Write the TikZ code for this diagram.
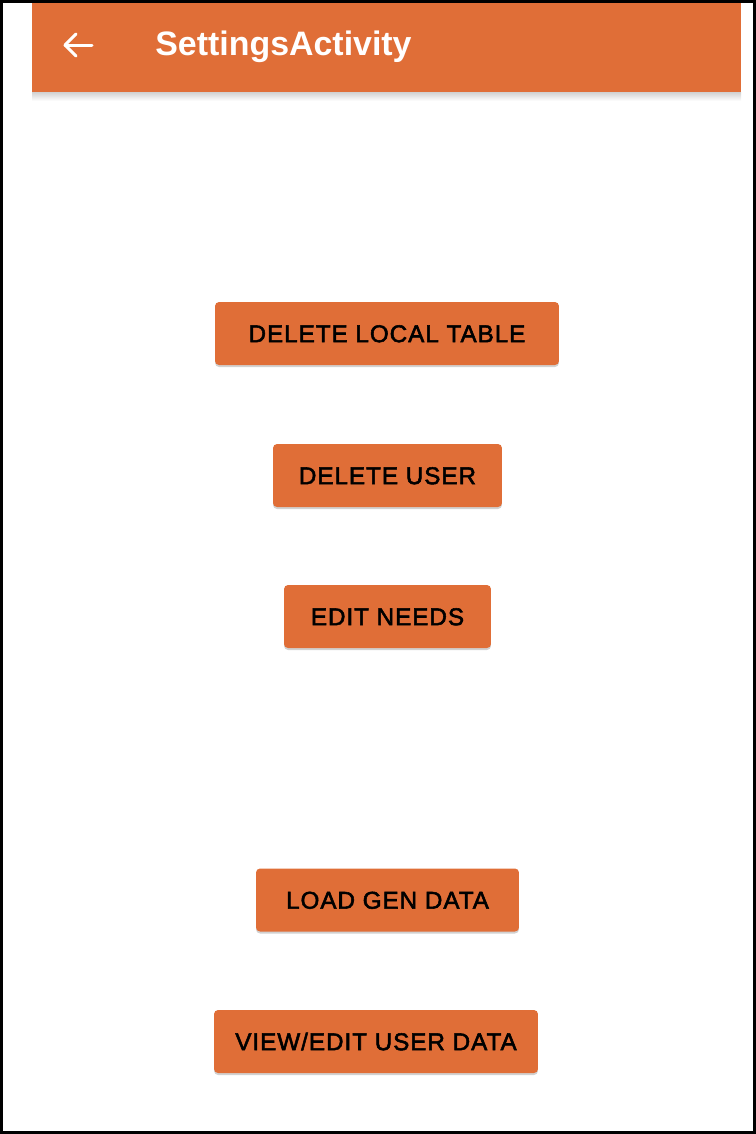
\documentclass[tikz,border=0pt]{standalone}
\usepackage{fontspec}
\setmainfont{Liberation Sans}
\newfontfamily\btnfont[FakeBold=2.2,LetterSpace=4]{Liberation Sans}
\usetikzlibrary{shapes,positioning,shadows}
\definecolor{appOrange}{RGB}{224,110,55}

\begin{document}
\begin{tikzpicture}[
    x=0.02cm, y=-0.02cm,
    appbar/.style={fill=appOrange, draw=none},
    title/.style={text=white, font=\fontsize{19.3}{23}\selectfont\bfseries, anchor=base west, inner sep=0pt},
    button/.style={rectangle, fill=appOrange, rounded corners=0.08cm, minimum height=1.26cm, text height=0.346cm, text depth=0pt, inner sep=0pt, font=\btnfont\fontsize{13.8}{16}\selectfont, drop shadow={shadow xshift=0pt, shadow yshift=-0.04cm, opacity=0.18, fill=black}},
    backarrow/.style={white, line width=0.06cm, line cap=round, line join=round}
]
    \useasboundingbox (0,0) rectangle (756,1134);

    % Barre d'application
    \shade[top color=black!18, bottom color=white] (32,92) rectangle (741,101);
    \fill[appbar] (32,2) rectangle (741,92);
    \draw[backarrow] (65,45) -- (92,45);
    \draw[backarrow] (76,34) -- (65,45) -- (76,56);
    \node[title] (titre) at (155,55) {SettingsActivity};

    % Boutons
    \node[button, minimum width=6.88cm] (dellocal) at (387,333.5) {DELETE LOCAL TABLE};
    \node[button, minimum width=4.58cm] (deluser) at (387.5,475.5) {DELETE USER};
    \node[button, minimum width=4.14cm] (editneeds) at (387.5,616.5) {EDIT NEEDS};
    \node[button, minimum width=5.26cm] (loadgen) at (387.5,900) {LOAD GEN DATA};
    \node[button, minimum width=6.48cm] (viewedit) at (376,1041.5) {VIEW/EDIT USER DATA};

    % Cadre
    \draw[black, line width=0.06cm] (1.5,1.5) rectangle (754.5,1132.5);

\end{tikzpicture}
\end{document}
